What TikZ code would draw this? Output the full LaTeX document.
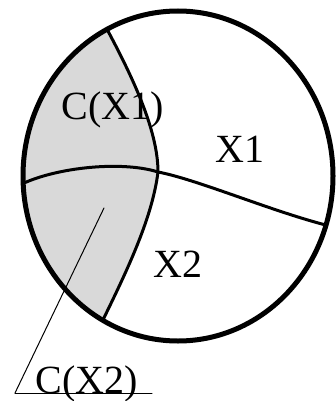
\documentclass[tikz,border=0pt]{standalone}
\usepackage{fontspec}
\setmainfont{Liberation Serif}
\usepackage{tkz-euclide}
\definecolor{PartClr}{rgb}{0.85,0.85,0.85}
\tikzset{lbl/.style={font=\fontsize{40}{44}\selectfont,inner sep=0pt,anchor=base}}

\begin{document}
\begin{tikzpicture}[x=1pt,y=-1pt]
\useasboundingbox (0,0) rectangle (335,401);

\tkzDefPoints{178/176/O,102/20/T,158/172/M,98/330/B,16/187/L,338/228/R}
\tkzDefPoints{104/208/P,15/393/Q,152/393/U}

% shaded part C(X1) u C(X2)
\begin{scope}
\clip (O) ellipse [x radius=155,y radius=165];
\fill[PartClr] (T) .. controls (132,75) and (158,130) .. (M)
   .. controls (152,220) and (125,275) .. (B) -- (0,401) -- (0,0) -- cycle;
\draw[line width=3pt] (T) .. controls (132,75) and (158,130) .. (M)
   .. controls (152,220) and (125,275) .. (B);
\draw[line width=3pt] (L) .. controls (50,168) and (120,160) .. (M)
   .. controls (200,180) and (280,215) .. (R);
\end{scope}

\draw[line width=5pt] (O) ellipse [x radius=155,y radius=165];

\tkzDrawSegments[line width=1pt](P,Q Q,U)

\node[lbl] (cx1) at (113,120) {C(X1)};
\node[lbl] (x1) at (240,162) {X1};
\node[lbl] (x2) at (178,277) {X2};
\node[lbl] (cx2) at (87,393) {C(X2)};

\end{tikzpicture}
\end{document}
